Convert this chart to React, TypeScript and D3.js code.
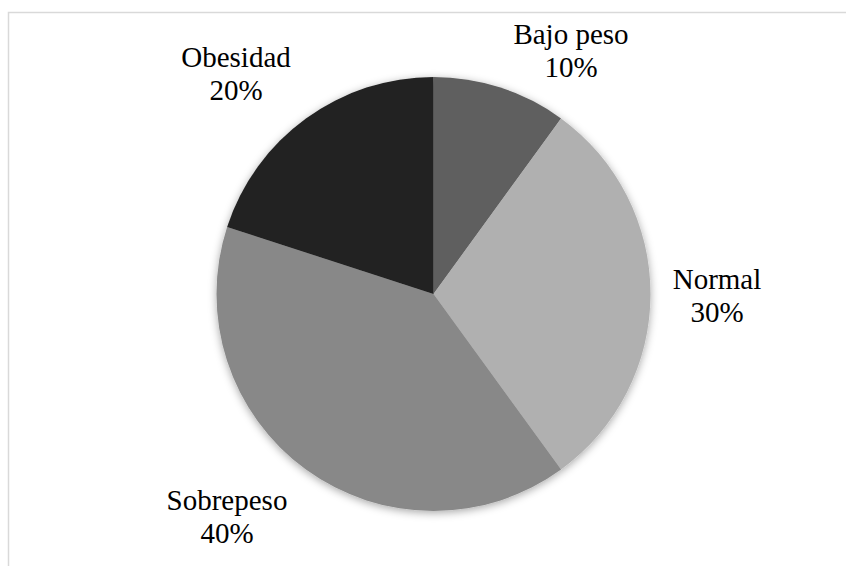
import React from "react";
import * as d3 from "d3";

const categories = ["Bajo peso", "Normal", "Sobrepeso", "Obesidad"];
const values = [10, 30, 40, 20];
const percentLabels = ["10%", "30%", "40%", "20%"];
const colors = ["#5f5f5f", "#b0b0b0", "#888888", "#212121"];
const labelPos: [number, number][] = [
  [571, 44],
  [717, 289],
  [227, 510],
  [236, 67],
];

export default function App() {
  const W = 846;
  const H = 566;
  const cx = 433.5;
  const cy = 294;
  const r = 217;
  const pie = d3.pie<number>().sort(null).value((d) => d)(values);
  const arc = d3.arc<d3.PieArcDatum<number>>().innerRadius(0).outerRadius(r);
  return (
    <svg
      width={W}
      height={H}
      style={{ position: "absolute", left: 0, top: 0, display: "block", background: "#fff" }}
    >
      <defs>
        <filter id="sh" x="-20%" y="-20%" width="140%" height="140%">
          <feDropShadow dx="0" dy="2" stdDeviation="4" floodColor="#000" floodOpacity="0.35" />
        </filter>
      </defs>
      <rect x={8.5} y={12.5} width={W} height={H} fill="none" stroke="#d9d9d9" strokeWidth={1.5} />
      <g transform={`translate(${cx},${cy})`} filter="url(#sh)">
        {pie.map((p, i) => (
          <path key={categories[i]} d={arc(p) || ""} fill={colors[i]} />
        ))}
      </g>
      {categories.map((c, i) => (
        <text
          key={c}
          x={labelPos[i][0]}
          y={labelPos[i][1]}
          textAnchor="middle"
          fontFamily="Liberation Serif, Times New Roman, serif"
          fontSize={29}
          fill="#000"
        >
          <tspan x={labelPos[i][0]}>{c}</tspan>
          <tspan x={labelPos[i][0]} dy={33}>{percentLabels[i]}</tspan>
        </text>
      ))}
    </svg>
  );
}
